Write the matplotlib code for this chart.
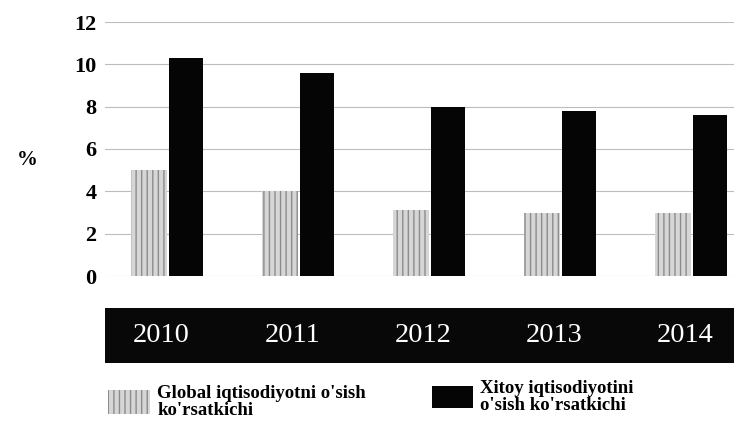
import matplotlib
matplotlib.use("Agg")
import matplotlib.pyplot as plt
from matplotlib.patches import Patch

years = ["2010", "2011", "2012", "2013", "2014"]
global_growth = [5.0, 4.0, 3.1, 3.0, 3.0]
china_growth = [10.3, 9.6, 8.0, 7.8, 7.6]
yticks = [0, 2, 4, 6, 8, 10, 12]
label_global = "Global iqtisodiyotni o'sish\nko'rsatkichi"
label_china = "Xitoy iqtisodiyotini\no'sish ko'rsatkichi"

plt.rcParams['font.family'] = ['Liberation Serif', 'DejaVu Serif']

W, H = 734, 425
fig = plt.figure(figsize=(W / 100, H / 100), dpi=100)

def fr(x0, y0, x1, y1):
    return [x0 / W, 1 - y1 / H, (x1 - x0) / W, (y1 - y0) / H]

ax = fig.add_axes(fr(105, 22, 734, 276))
x = list(range(len(years)))
xg = [i - 0.145 for i in x]
xb = [i + 0.14 for i in x]
bg = ax.bar(xg, global_growth, width=0.27, color='#d6d6d6', edgecolor='#8c8c8c',
            hatch='|||', linewidth=0, zorder=3)
bb = ax.bar(xb, china_growth, width=0.26, color='#050505', zorder=3)
ax.set_xlim(-0.48, 4.32)
ax.set_ylim(0, 12)
ax.set_yticks(yticks)
ax.set_yticklabels([str(t) for t in yticks], fontsize=16, fontweight='bold')
ax.tick_params(axis='y', length=0, pad=6)
ax.set_xticks([])
ax.grid(axis='y', color='#bdbdbd', linewidth=0.8, zorder=0)
for s in ax.spines.values():
    s.set_visible(False)
fig.text(17 / W, 1 - 160 / H, "%", fontsize=15, fontweight='bold', ha='left', va='center')

band = fig.add_axes(fr(105, 308, 734, 363), sharex=ax)
band.set_facecolor('#080808')
band.set_ylim(0, 1)
for i, yr in enumerate(years):
    band.text(i - 0.05, 0.5, yr, color='white', fontsize=20.5, ha='center', va='center')
band.tick_params(left=False, bottom=False, labelleft=False, labelbottom=False)
for s in band.spines.values():
    s.set_visible(False)

common = dict(frameon=False, handletextpad=0.37, borderpad=0,
              borderaxespad=0, prop={'weight': 'bold', 'size': 13.5})
leg1 = fig.legend(handles=[Patch(facecolor='#d6d6d6', edgecolor='#8c8c8c', hatch='|||', linewidth=0)],
                  labels=[label_global], loc='center left',
                  bbox_to_anchor=(108 / W, 1 - 402 / H), handlelength=2.25,
                  handleheight=1.6, **common)
leg2 = fig.legend(handles=[Patch(facecolor='#050505')],
                  labels=[label_china], loc='center left',
                  bbox_to_anchor=(432 / W, 1 - 397 / H), handlelength=2.2,
                  handleheight=1.45, **common)
for leg in (leg1, leg2):
    for t in leg.get_texts():
        t.set_linespacing(0.95)

fig.savefig("out.png", dpi=100)
